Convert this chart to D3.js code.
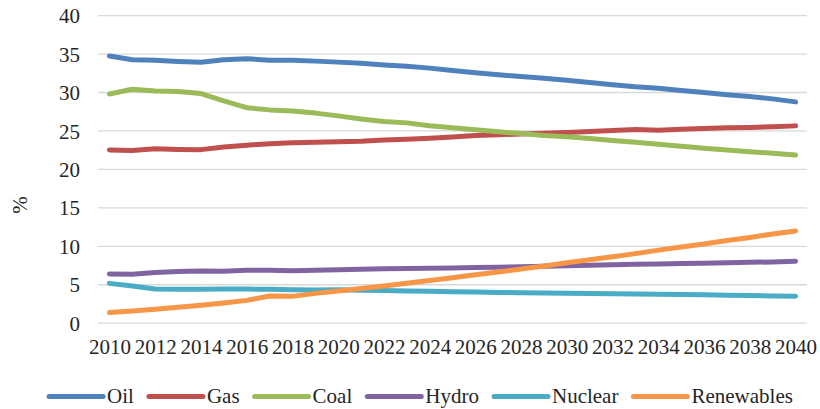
<!DOCTYPE html>
<html>
<head>
<meta charset="utf-8">
<script src="https://cdn.jsdelivr.net/npm/d3@7"></script>
<style>
  html, body { margin: 0; padding: 0; background: #fff; }
  svg { display: block; }
  text { font-family: "Liberation Serif", "Times New Roman", serif; fill: #262626; }
</style>
</head>
<body>
<svg id="chart" width="820" height="409"></svg>
<script>
const years = d3.range(2010, 2041);
const yTicks = [0, 5, 10, 15, 20, 25, 30, 35, 40];
const xTickLabels = d3.range(2010, 2041, 2);

const seriesNames = ["Oil", "Gas", "Coal", "Hydro", "Nuclear", "Renewables"];
const seriesColors = ["#4F81BD", "#C0504D", "#9BBB59", "#8064A2", "#4BACC6", "#F79646"];

const oil = [34.75, 34.25, 34.18, 34.02, 33.92, 34.26, 34.4, 34.2, 34.2, 34.08, 33.95, 33.8, 33.57, 33.4, 33.17, 32.85, 32.57, 32.3, 32.08, 31.86, 31.6, 31.3, 31.02, 30.75, 30.56, 30.26, 30.0, 29.72, 29.47, 29.17, 28.78];
const gas = [22.52, 22.45, 22.68, 22.6, 22.57, 22.9, 23.15, 23.35, 23.48, 23.52, 23.58, 23.67, 23.83, 23.92, 24.05, 24.22, 24.4, 24.52, 24.6, 24.7, 24.8, 24.93, 25.05, 25.18, 25.1, 25.23, 25.32, 25.42, 25.46, 25.54, 25.66];
const coal = [29.8, 30.42, 30.18, 30.12, 29.86, 28.9, 28.02, 27.74, 27.6, 27.32, 26.96, 26.55, 26.22, 26.05, 25.68, 25.42, 25.15, 24.9, 24.66, 24.42, 24.26, 24.02, 23.76, 23.54, 23.28, 23.02, 22.76, 22.52, 22.3, 22.1, 21.86];
const hydro = [6.4, 6.38, 6.6, 6.73, 6.78, 6.74, 6.87, 6.87, 6.83, 6.9, 6.96, 7.02, 7.07, 7.1, 7.14, 7.19, 7.24, 7.29, 7.34, 7.4, 7.48, 7.54, 7.6, 7.65, 7.7, 7.75, 7.8, 7.86, 7.91, 7.97, 8.05];
const nuclear = [5.18, 4.83, 4.45, 4.4, 4.42, 4.44, 4.44, 4.4, 4.36, 4.32, 4.35, 4.3, 4.25, 4.2, 4.15, 4.1, 4.05, 4.0, 3.97, 3.93, 3.9, 3.87, 3.83, 3.8, 3.77, 3.73, 3.7, 3.65, 3.6, 3.55, 3.5];
const renewables = [1.38, 1.58, 1.8, 2.06, 2.32, 2.62, 2.97, 3.53, 3.49, 3.88, 4.18, 4.5, 4.85, 5.2, 5.55, 5.9, 6.3, 6.65, 7.05, 7.45, 7.85, 8.25, 8.65, 9.05, 9.5, 9.9, 10.3, 10.75, 11.15, 11.6, 12.0];

const seriesValues = [oil, gas, coal, hydro, nuclear, renewables];

const svg = d3.select("#chart");
const plotLeft = 98, plotRight = 807, plotTop = 15.6, plotBottom = 323.2;

const x = d3.scalePoint().domain(years).range([plotLeft, plotRight]).padding(0.5);
const y = d3.scaleLinear().domain([0, 40]).range([plotBottom, plotTop]);

// gridlines
svg.append("g").selectAll("line").data(yTicks).join("line")
  .attr("x1", plotLeft).attr("x2", plotRight)
  .attr("y1", d => y(d)).attr("y2", d => y(d))
  .attr("stroke", "#d9d9d9").attr("stroke-width", 1.3);

// y axis labels
const yAxis = d3.axisLeft(y).tickValues(yTicks).tickSize(0).tickPadding(0).tickFormat(d3.format("d"));
const gy = svg.append("g").attr("transform", `translate(80,0)`).call(yAxis);
gy.select(".domain").remove();
gy.selectAll("text").attr("font-size", 21).attr("font-family", "Liberation Serif").attr("fill", "#262626").attr("dy", "0.34em");

// x axis labels
const xAxis = d3.axisBottom(x).tickValues(xTickLabels).tickSize(0).tickPadding(0).tickFormat(d3.format("d"));
const gx = svg.append("g").attr("transform", `translate(0,${plotBottom})`).call(xAxis);
gx.select(".domain").remove();
gx.selectAll("text").attr("font-size", 21).attr("font-family", "Liberation Serif").attr("fill", "#262626").attr("y", 31).attr("dy", 0);

// y title
svg.append("text")
  .attr("transform", "translate(27,205) rotate(-90)")
  .attr("text-anchor", "middle")
  .attr("font-size", 21)
  .text("%");

// lines
const line = d3.line().x((d, i) => x(years[i])).y(d => y(d));
seriesValues.forEach((vals, k) => {
  svg.append("path")
    .datum(vals)
    .attr("fill", "none")
    .attr("stroke", seriesColors[k])
    .attr("stroke-width", 5)
    .attr("stroke-linecap", "round")
    .attr("stroke-linejoin", "round")
    .attr("d", line);
});

// legend
const legend = svg.append("g");
const items = [];
seriesNames.forEach((name, k) => {
  const g = legend.append("g");
  g.append("line").attr("x1", 0).attr("x2", 54).attr("y1", 396.5).attr("y2", 396.5)
    .attr("stroke", seriesColors[k]).attr("stroke-width", 5).attr("stroke-linecap", "round");
  const t = g.append("text").attr("x", 58).attr("y", 403).attr("font-size", 21).text(name);
  items.push({ g, w: 58 + t.node().getComputedTextLength() });
});
const gap = 15;
const total = d3.sum(items, d => d.w) + gap * (items.length - 1);
let cx = 421 - total / 2;
items.forEach(it => { it.g.attr("transform", `translate(${cx},0)`); cx += it.w + gap; });
</script>
</body>
</html>
